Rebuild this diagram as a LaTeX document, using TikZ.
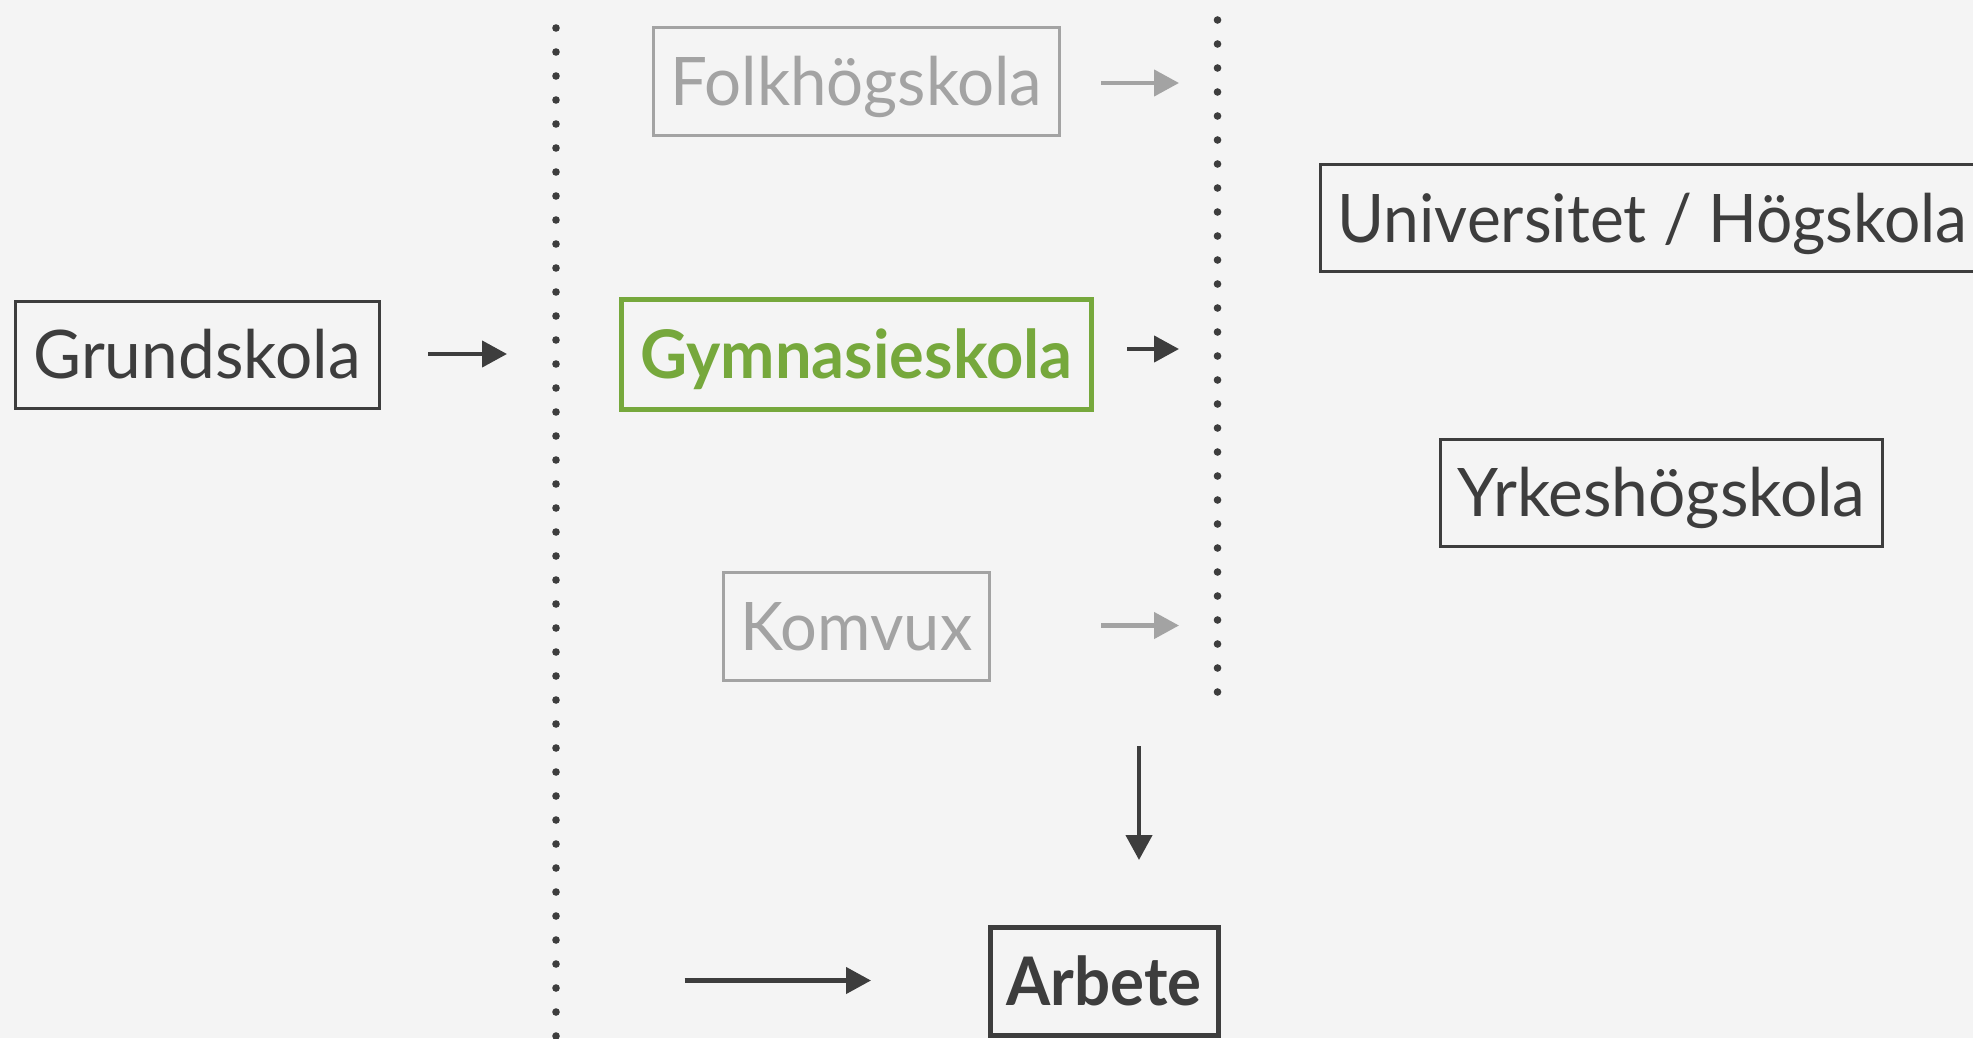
\documentclass[tikz,border=0pt]{standalone}
\usepackage{fontspec}
\setmainfont{Lato}
\usetikzlibrary{arrows.meta}
\definecolor{bg}{HTML}{F4F4F4}
\definecolor{ink}{HTML}{3D3D3D}
\definecolor{faint}{HTML}{A3A3A3}
\definecolor{grn}{HTML}{76A83C}
\newcommand\fitw[2]{\resizebox{#1}{\height}{#2}}
\begin{document}
\begin{tikzpicture}[x=0.5pt,y=-0.5pt,
  box/.style={draw=ink, line width=1.5pt, text=ink, inner sep=0pt,
    text height=24pt, text depth=0pt, font=\fontsize{33.5}{40}\selectfont},
  faintbox/.style={box, draw=faint, text=faint},
  greenbox/.style={box, draw=grn, text=grn, line width=2.5pt, font=\fontsize{33.5}{40}\selectfont\bfseries},
  boldbox/.style={box, line width=2.5pt, font=\fontsize{33.5}{40}\selectfont\bfseries},
  arr/.style={draw=ink, line width=2.2pt, -{Triangle[length=12.5pt,width=13pt]}},
  faintarr/.style={arr, draw=faint},
  dots/.style={draw=ink, line width=3.8pt, line cap=round, dash pattern=on 0pt off 12pt}]
\useasboundingbox (0,0) rectangle (1973,1038);
\clip (0,0) rectangle (1973,1038);
\fill[bg] (0,0) rectangle (1973,1038);

% dotted separators
\coordinate (d1a) at (556,28);
\coordinate (d1b) at (556,1045);
\coordinate (d2a) at (1217.5,20);
\coordinate (d2b) at (1217.5,693);
\draw[dots] (d1a) -- (d1b);
\draw[dots] (d2a) -- (d2b);

% boxes
\node[box, minimum width=182pt, minimum height=53.5pt] (grund) at (197,354.5) {\fitw{163.6pt}{Grundskola}};
\node[faintbox, minimum width=203.3pt, minimum height=54.1pt] (folk) at (856.3,81.8) {\fitw{186pt}{Folkhögskola}};
\node[greenbox, minimum width=234.7pt, minimum height=54.8pt] (gym) at (856.3,354.3) {\fitw{216pt}{Gymnasieskola}};
\node[faintbox, minimum width=132.8pt, minimum height=54.1pt] (komvux) at (856.3,626.6) {\fitw{116pt}{Komvux}};
\node[box, minimum width=332.5pt, minimum height=53.5pt] (uni) at (1652.5,218.3) {\fitw{315pt}{Universitet / Högskola}};
\node[box, minimum width=220.8pt, minimum height=53.5pt] (yrkes) at (1661.6,492.5) {\fitw{204pt}{Yrkeshögskola}};
\node[boldbox, minimum width=114pt, minimum height=54pt] (arbete) at (1104,981.5) {\fitw{97.5pt}{Arbete}};

% arrows
\coordinate (a1s) at (428,354);
\coordinate (a1e) at (507,354);
\coordinate (a2s) at (1101,83);
\coordinate (a2e) at (1179,83);
\coordinate (a3s) at (1127,349);
\coordinate (a3e) at (1179,349);
\coordinate (a4s) at (1101,625.5);
\coordinate (a4e) at (1179,625.5);
\coordinate (a5s) at (1139,746);
\coordinate (a5e) at (1139,860);
\coordinate (a6s) at (684.5,980.5);
\coordinate (a6e) at (871,980.5);
\draw[arr] (a1s) -- (a1e);
\draw[faintarr] (a2s) -- (a2e);
\draw[arr] (a3s) -- (a3e);
\draw[faintarr] (a4s) -- (a4e);
\draw[arr] (a5s) -- (a5e);
\draw[arr] (a6s) -- (a6e);
\end{tikzpicture}
\end{document}
